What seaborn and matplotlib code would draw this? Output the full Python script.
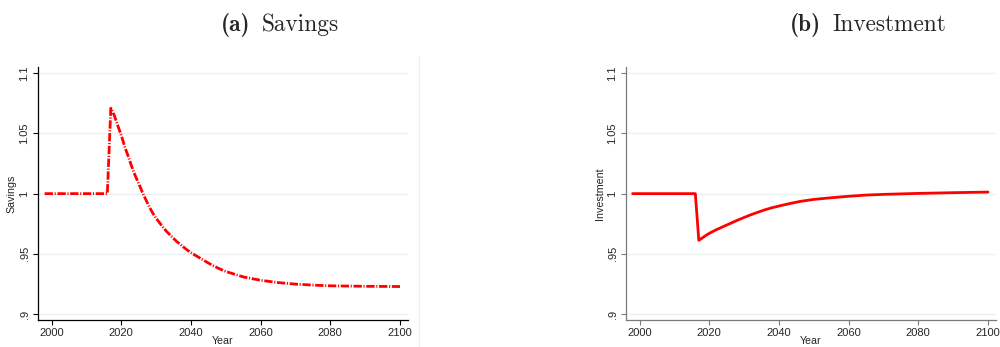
import matplotlib
matplotlib.use("Agg")
import matplotlib.pyplot as plt
from matplotlib.lines import Line2D
import seaborn as sns
import pandas as pd

# Savings path (relative to baseline)
sav_years = [1998, 2016, 2017, 2018, 2019, 2020, 2021, 2022, 2023, 2024, 2025,
             2026, 2027, 2028, 2029, 2030, 2031, 2032, 2033, 2034, 2035, 2036,
             2037, 2038, 2039, 2040, 2042, 2044, 2046, 2048, 2050, 2055, 2060,
             2065, 2070, 2075, 2080, 2090, 2100]
sav_values = [1.000, 1.000, 1.071, 1.065, 1.0565, 1.0485, 1.039, 1.031, 1.0225, 1.015, 1.0085,
              1.0015, 0.9953, 0.9893, 0.9840, 0.9795, 0.9758, 0.9720, 0.9686, 0.9657, 0.9628, 0.9600,
              0.9577, 0.9553, 0.9530, 0.9510, 0.9475, 0.9440, 0.9407, 0.9378, 0.9353, 0.9308, 0.9280,
              0.9261, 0.9248, 0.9240, 0.9234, 0.9230, 0.9228]

# Investment path (relative to baseline)
inv_years = [1998, 2016, 2017, 2018, 2019, 2020, 2022, 2024, 2026, 2028, 2030,
             2032, 2034, 2036, 2038, 2040, 2043, 2046, 2050, 2055, 2060, 2065,
             2070, 2080, 2090, 2100]
inv_values = [1.000, 1.000, 0.9612, 0.9632, 0.9652, 0.9670, 0.9700, 0.9726, 0.9752, 0.9778, 0.9802,
              0.9825, 0.9846, 0.9866, 0.9883, 0.9897, 0.9917, 0.9935, 0.9952, 0.9966, 0.9978, 0.9988,
              0.9994, 1.0002, 1.0008, 1.0013]

x_ticks = [2000, 2020, 2040, 2060, 2080, 2100]
y_ticks = [0.90, 0.95, 1.00, 1.05, 1.10]
y_ticklabels = [".9", ".95", "1", "1.05", "1.1"]
panel_tags = ["(a)", "(b)"]
panel_names = ["Savings", "Investment"]
y_labels = ["Savings", "Investment"]

sns.set_theme(style="white")
plt.rcParams["font.family"] = ["Liberation Sans", "DejaVu Sans"]

fig = plt.figure(figsize=(10, 3.47), dpi=100)
ax_s = fig.add_axes([0.038, 0.0778, 0.370, 0.729])
ax_i = fig.add_axes([0.626, 0.0778, 0.370, 0.729])

sav_df = pd.DataFrame({"Year": sav_years, "value": sav_values})
inv_df = pd.DataFrame({"Year": inv_years, "value": inv_values})

sns.lineplot(data=sav_df, x="Year", y="value", ax=ax_s, color="#ff0000",
             linewidth=2.0, linestyle=(0, (3, 0.6, 0.4, 0.6)))
sns.lineplot(data=inv_df, x="Year", y="value", ax=ax_i, color="#ff0000",
             linewidth=2.0, linestyle="-")

spine_colors = ["black", "#7a7a7a"]
for ax, ylab, sc in zip([ax_s, ax_i], y_labels, spine_colors):
    ax.set_xlim(1996.1, 2102.3)
    ax.set_ylim(0.895, 1.1052)
    ax.set_xticks(x_ticks)
    ax.set_yticks(y_ticks)
    ax.set_yticklabels(y_ticklabels, rotation=90, va="center")
    ax.tick_params(axis="both", which="major", labelsize=8, direction="out",
                   length=3.6, width=0.8, color=sc, bottom=True, left=True)
    ax.tick_params(axis="x", pad=2.5)
    ax.tick_params(axis="y", pad=2.5)
    ax.grid(axis="y", color="#eaf2f3", linewidth=1.0)
    ax.grid(axis="x", visible=False)
    for side in ["top", "right"]:
        ax.spines[side].set_visible(False)
    for side in ["left", "bottom"]:
        ax.spines[side].set_color(sc)
        ax.spines[side].set_linewidth(0.9)
    ax.set_xlabel("Year", fontsize=7.7)
    ax.xaxis.set_label_coords(0.5, -0.062)
    ax.set_ylabel(ylab, fontsize=7.7, labelpad=2)

# Subfigure captions: bold tag followed by roman name
title_baseline = 0.9115
tag_right = [0.2505, 0.8205]
name_left = [0.2617, 0.8327]
for tag, name, xr, xl in zip(panel_tags, panel_names, tag_right, name_left):
    fig.text(xr, title_baseline, tag, fontsize=16.8, family="cmb10",
             ha="right", va="baseline")
    fig.text(xl, title_baseline, name, fontsize=16.8, family="cmr10",
             ha="left", va="baseline")

# thin separator at the edge of the first panel
fig.add_artist(Line2D([0.419, 0.419], [0.0, 0.84], transform=fig.transFigure,
                      color="#ececec", linewidth=0.8))

fig.savefig("out.png", dpi=100)
